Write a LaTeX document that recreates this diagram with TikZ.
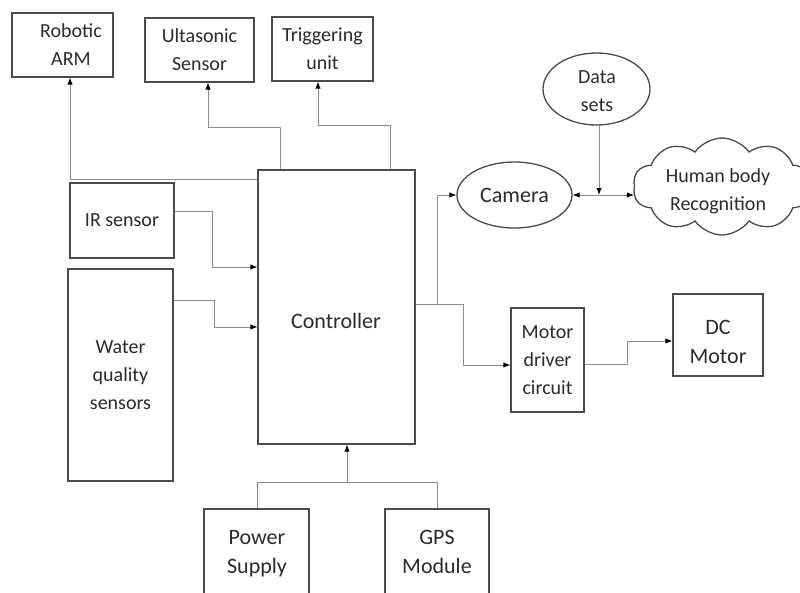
\documentclass[tikz,border=0pt]{standalone}
\usepackage{fontspec}
\setmainfont{Carlito}
\usetikzlibrary{arrows.meta,shapes.geometric,shapes.symbols}
\definecolor{boxc}{HTML}{4A4A4A}
\definecolor{linec}{HTML}{8C8C8C}
\definecolor{txtc}{HTML}{2B2B2B}
\begin{document}
\begin{tikzpicture}[x=1pt,y=-1pt,
  box/.style={draw=boxc,line width=1.3pt,inner sep=0pt,align=center,text=txtc,font=\fontsize{20}{28}\selectfont},
  oval/.style={ellipse,draw=boxc,line width=1.3pt,inner sep=0pt,align=center,text=txtc},
  txt/.style={inner sep=0pt,align=center,text=txtc,font=\fontsize{20}{28}\selectfont},
  big/.style={font=\fontsize{22}{29}\selectfont},
  conn/.style={draw=linec,line width=0.9pt,-{Latex[length=7pt,width=5.5pt,color=black]}},
  wire/.style={draw=linec,line width=0.9pt}]
\clip (0,0) rectangle (800,592);
\fill[white] (0,0) rectangle (800,592);

% boxes
\node[box,minimum width=101pt,minimum height=64pt] (arm) at (62.5,45) {};
\node[txt] (armt) at (71,45) {Robotic\\ARM};
\node[box,minimum width=109pt,minimum height=64pt] (ult) at (199.5,50) {Ultasonic\\Sensor};
\node[box,minimum width=101pt,minimum height=64pt] (trig) at (322.5,49) {Triggering\\unit};
\node[box,minimum width=104pt,minimum height=75pt] (ir) at (122,220.5) {IR sensor};
\node[box,minimum width=105pt,minimum height=212pt] (water) at (120.5,375) {Water\\quality\\sensors};
\node[box,minimum width=157pt,minimum height=274pt] (ctrl) at (336.5,307) {};
\node[txt,big] (ctrlt) at (336,321) {Controller};
\node[oval,big,minimum width=115pt,minimum height=66pt] (cam) at (514.5,195) {Camera};
\node[oval,minimum width=107pt,minimum height=72pt] (ds) at (596.5,89) {};
\node[txt] (dst) at (597,91) {Data\\sets};
\node[cloud,draw=boxc,line width=1.3pt,cloud puffs=10,cloud puff arc=110,aspect=1.8,
      minimum width=178pt,minimum height=97pt,inner sep=0pt] (hbr) at (722,186.5) {};
\node[txt] (hbrt) at (718,191) {Human body\\Recognition};
\node[box,minimum width=73pt,minimum height=104pt] (mdc) at (547.5,360) {Motor\\driver\\circuit};
\node[box,minimum width=90pt,minimum height=82pt] (dc) at (718,335) {};
\node[txt,big] (dct) at (718,342) {DC\\Motor};
\node[box,minimum width=105pt,minimum height=131pt] (pow) at (256.5,574.5) {};
\node[txt,big] (powt) at (257,554) {Power\\Supply};
\node[box,minimum width=104pt,minimum height=131pt] (gps) at (437,574.5) {};
\node[txt,big] (gpst) at (437,552) {GPS\\Module};

% connectors
\draw[conn] (ctrl.west |- 0,179) -| (arm.south -| 70,0);
\draw[conn] (ctrl.north -| 280,0) |- (208,127) -- (ult.south -| 208,0);
\draw[conn] (ctrl.north -| 390,0) |- (318,125) -- (trig.south -| 318,0);
\draw[conn] (ir.east |- 0,211) -| (212,267) -- (ctrl.west |- 0,267);
\draw[conn] (water.east |- 0,300) -| (214,327) -- (ctrl.west |- 0,327);
\draw[wire] (pow.north -| 257,0) |- (437,482) -- (gps.north);
\draw[conn] (347,482) -- (ctrl.south -| 347,0);
\draw[conn] (ctrl.east |- 0,304) -| (463,365) -- (mdc.west |- 0,365);
\draw[conn] (437,304) |- (cam.west);
\draw[conn] (mdc.east |- 0,364) -| (627,341) -- (dc.west |- 0,341);
\draw[wire,{Latex[length=7pt,width=5.5pt,color=black]}-{Latex[length=7pt,width=5.5pt,color=black]}] (cam.east) -- (cam.east -| hbr.west);
\draw[conn] (ds.south -| 599,0) -- (599,0 |- cam.east);
\end{tikzpicture}
\end{document}
